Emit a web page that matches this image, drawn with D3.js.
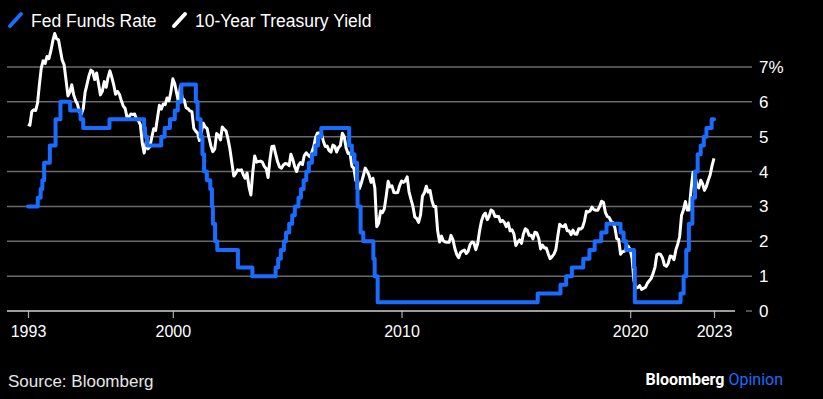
<!DOCTYPE html>
<html>
<head>
<meta charset="utf-8">
<script src="https://cdn.jsdelivr.net/npm/d3@7"></script>
<style>
  html, body { margin: 0; padding: 0; background: #000; }
  svg { display: block; font-family: "Liberation Sans", Arial, sans-serif; }
</style>
</head>
<body>
<div id="chart"></div>
<script>
// Fed funds target (upper bound), change dates and new level
var fedDates = ["1993-09-01","1994-02-04","1994-03-22","1994-04-18","1994-05-17","1994-08-16","1994-11-15",
  "1995-02-01","1995-07-06","1995-12-19","1996-01-31","1997-03-25","1998-09-29","1998-10-15","1998-11-17",
  "1999-06-30","1999-08-24","1999-11-16","2000-02-02","2000-03-21","2000-05-16","2001-01-03","2001-01-31",
  "2001-03-20","2001-04-18","2001-05-15","2001-06-27","2001-08-21","2001-09-17","2001-10-02","2001-11-06",
  "2001-12-11","2002-11-06","2003-06-25","2004-06-30","2004-08-10","2004-09-21","2004-11-10","2004-12-14",
  "2005-02-02","2005-03-22","2005-05-03","2005-06-30","2005-08-09","2005-09-20","2005-11-01","2005-12-13",
  "2006-01-31","2006-03-28","2006-05-10","2006-06-29","2007-09-18","2007-10-31","2007-12-11","2008-01-22",
  "2008-01-30","2008-03-18","2008-04-30","2008-10-08","2008-10-29","2008-12-16","2015-12-16","2016-12-14",
  "2017-03-15","2017-06-14","2017-12-13","2018-03-21","2018-06-13","2018-09-26","2018-12-19","2019-07-31",
  "2019-09-18","2019-10-30","2020-03-03","2020-03-15","2022-03-16","2022-05-04","2022-06-15","2022-07-27",
  "2022-09-21","2022-11-02","2022-12-14","2023-02-01","2023-03-22","2023-05-03","2023-07-26","2023-09-01"];
var fedRates = [3.00,3.25,3.50,3.75,4.25,4.75,5.50,
  6.00,5.75,5.50,5.25,5.50,5.25,5.00,4.75,
  5.00,5.25,5.50,5.75,6.00,6.50,6.00,5.50,
  5.00,4.50,4.00,3.75,3.50,3.00,2.50,2.00,
  1.75,1.25,1.00,1.25,1.50,1.75,2.00,2.25,
  2.50,2.75,3.00,3.25,3.50,3.75,4.00,4.25,
  4.50,4.75,5.00,5.25,4.75,4.50,4.25,3.50,
  3.00,2.25,2.00,1.50,1.00,0.25,0.50,0.75,
  1.00,1.25,1.50,1.75,2.00,2.25,2.50,2.25,
  2.00,1.75,1.25,0.25,0.50,1.00,1.75,2.50,
  3.25,4.00,4.50,4.75,5.00,5.25,5.50,5.50];

// 10-year Treasury yield, monthly from Sep 1993
var yieldStart = "1993-09-01";
var yieldValues = [
  5.36,5.33,5.72,5.77,
  5.75,5.97,6.48,6.97,7.18,7.10,7.30,7.24,7.46,7.74,7.96,7.81,
  7.78,7.47,7.20,7.06,6.63,6.17,6.28,6.49,6.20,6.04,5.93,5.71,
  5.65,5.81,6.27,6.51,6.74,6.91,6.87,6.64,6.83,6.53,6.20,6.30,
  6.58,6.42,6.69,6.89,6.71,6.49,6.22,6.30,6.21,6.03,5.88,5.81,
  5.54,5.57,5.65,5.64,5.65,5.50,5.46,5.34,4.81,4.53,4.83,4.65,
  4.72,5.00,5.23,5.18,5.54,5.90,5.79,5.94,5.92,6.11,6.03,6.28,
  6.66,6.52,6.26,5.99,6.44,6.10,6.05,5.83,5.80,5.74,5.72,5.24,
  5.16,5.10,4.89,5.14,5.39,5.28,5.24,4.97,4.73,4.57,4.65,5.09,
  5.04,4.91,5.28,5.21,5.16,4.93,4.65,4.26,3.87,3.94,4.05,4.03,
  4.05,3.90,3.81,3.96,3.57,3.33,3.98,4.45,4.27,4.29,4.30,4.27,
  4.15,4.08,3.83,4.35,4.72,4.73,4.50,4.28,4.13,4.10,4.19,4.23,
  4.22,4.17,4.50,4.34,4.14,4.00,4.18,4.26,4.20,4.46,4.54,4.47,
  4.42,4.57,4.72,4.99,5.11,5.11,5.09,4.88,4.72,4.73,4.60,4.56,
  4.76,4.72,4.56,4.69,4.75,5.10,5.00,4.67,4.52,4.53,4.15,4.10,
  3.74,3.74,3.51,3.68,3.88,4.10,4.01,3.89,3.69,3.81,3.53,2.42,
  2.52,2.87,2.82,2.93,3.29,3.72,3.56,3.59,3.40,3.39,3.40,3.59,
  3.73,3.69,3.73,3.85,3.42,3.20,3.01,2.70,2.65,2.54,2.76,3.29,
  3.39,3.58,3.41,3.46,3.17,3.00,3.00,2.30,1.98,2.15,2.01,1.98,
  1.97,1.97,2.17,2.05,1.80,1.62,1.53,1.68,1.72,1.75,1.65,1.72,
  1.91,1.98,1.96,1.76,1.93,2.30,2.58,2.74,2.81,2.62,2.72,2.90,
  2.86,2.71,2.72,2.71,2.56,2.60,2.54,2.42,2.53,2.30,2.33,2.21,
  1.88,1.98,2.04,1.94,2.20,2.36,2.32,2.17,2.17,2.07,2.26,2.24,
  2.09,1.78,1.89,1.81,1.81,1.64,1.50,1.56,1.63,1.76,2.14,2.49,
  2.43,2.42,2.48,2.30,2.30,2.19,2.32,2.21,2.20,2.36,2.35,2.40,
  2.58,2.86,2.84,2.87,2.98,2.91,2.89,2.89,3.00,3.15,3.12,2.83,
  2.71,2.68,2.57,2.53,2.40,2.07,2.06,1.63,1.70,1.71,1.81,1.86,
  1.76,1.50,0.87,0.66,0.67,0.73,0.62,0.65,0.68,0.79,0.87,0.93,
  1.08,1.26,1.61,1.64,1.62,1.52,1.32,1.28,1.37,1.58,1.56,1.47,
  1.76,1.93,2.13,2.75,2.90,3.14,2.90,2.90,3.52,3.98,3.89,3.62,
  3.53,3.75,3.66,3.46,3.57,3.75,3.90,4.17,4.38];

var xTickDates = ["1993-09-01","2000-01-01","2010-01-01","2020-01-01","2023-09-01"];
var xTickLabels = ["1993","2000","2010","2020","2023"];
var yTicks = [0,1,2,3,4,5,6,7];

var W = 823, H = 399;
var blue = "#1a6cff";
var parse = d3.timeParse("%Y-%m-%d");

var fed = fedDates.map(function(d, i) { return {date: parse(d), value: fedRates[i]}; });
var start = parse(yieldStart);
var yld = yieldValues.map(function(v, i) { return {date: d3.timeMonth.offset(start, i), value: v}; });

var x = d3.scaleTime()
  .domain([parse("1993-09-01"), parse("2023-09-01")])
  .range([28, 714]);
var y = d3.scaleLinear()
  .domain([0, 7])
  .range([311, 67]);

var svg = d3.select("#chart").append("svg")
  .attr("width", W)
  .attr("height", H);

svg.append("rect").attr("width", W).attr("height", H).attr("fill", "#000");

// Gridlines
svg.append("g")
  .selectAll("line")
  .data(yTicks.filter(function(d) { return d > 0; }))
  .join("line")
  .attr("x1", 7).attr("x2", 752)
  .attr("y1", function(d) { return y(d); })
  .attr("y2", function(d) { return y(d); })
  .attr("stroke", "#6a6a6a")
  .attr("stroke-width", 1.5);

// zero line: axis part plus a short grid stub
svg.append("line")
  .attr("x1", 746).attr("x2", 752)
  .attr("y1", y(0)).attr("y2", y(0))
  .attr("stroke", "#6a6a6a").attr("stroke-width", 1.5);

// y labels
svg.append("g")
  .selectAll("text")
  .data(yTicks)
  .join("text")
  .attr("x", 759)
  .attr("y", function(d) { return y(d); })
  .attr("dy", "0.35em")
  .attr("fill", "#fff")
  .attr("font-size", 17)
  .text(function(d) { return d === 7 ? "7%" : d; });

// x axis
var xAxis = d3.axisBottom(x)
  .tickValues(xTickDates.map(parse))
  .tickFormat(function(d, i) { return xTickLabels[i]; })
  .tickSize(7)
  .tickPadding(8)
  .tickSizeOuter(0);
var gx = svg.append("g")
  .attr("transform", "translate(0," + y(0) + ")")
  .call(xAxis);
gx.select(".domain").remove();
gx.selectAll(".tick line").attr("stroke", "#aaa").attr("stroke-width", 1.2);
gx.selectAll(".tick text")
  .attr("fill", "#fff")
  .attr("font-size", 16)
  .attr("font-family", "Liberation Sans, Arial, sans-serif");
svg.append("line")
  .attr("x1", 7).attr("x2", 735)
  .attr("y1", y(0)).attr("y2", y(0))
  .attr("stroke", "#d0d0d0").attr("stroke-width", 1.5);

// series
var yieldLine = d3.line()
  .x(function(d) { return x(d.date); })
  .y(function(d) { return y(d.value); });
var fedLine = d3.line()
  .x(function(d) { return x(d.date); })
  .y(function(d) { return y(d.value); })
  .curve(d3.curveStepAfter);

svg.append("path")
  .datum(yld)
  .attr("d", yieldLine)
  .attr("fill", "none")
  .attr("stroke", "#fff")
  .attr("stroke-width", 3)
  .attr("stroke-linejoin", "round");

svg.append("path")
  .datum(fed)
  .attr("d", fedLine)
  .attr("fill", "none")
  .attr("stroke", blue)
  .attr("stroke-width", 4)
  .attr("stroke-linejoin", "round")
  .attr("stroke-linecap", "round");

// legend
var legend = [{label: "Fed Funds Rate", color: blue, x: 8},
              {label: "10-Year Treasury Yield", color: "#fff", x: 172}];
var lg = svg.append("g").selectAll("g")
  .data(legend)
  .join("g")
  .attr("transform", function(d) { return "translate(" + d.x + ",0)"; });
lg.append("line")
  .attr("x1", 2).attr("y1", 26).attr("x2", 13).attr("y2", 14)
  .attr("stroke", function(d) { return d.color; })
  .attr("stroke-width", 4)
  .attr("stroke-linecap", "round");
lg.append("text")
  .attr("x", 23).attr("y", 27)
  .attr("fill", "#fff")
  .attr("font-size", 17.5)
  .text(function(d) { return d.label; });

// footer
svg.append("text")
  .attr("x", 8).attr("y", 387)
  .attr("fill", "#e6e6e6")
  .attr("font-size", 17)
  .text("Source: Bloomberg");

var brand = svg.append("text")
  .attr("x", 783).attr("y", 385)
  .attr("text-anchor", "end")
  .attr("font-size", 16)
  .attr("font-weight", "bold")
  .attr("font-family", "Roboto, Arial, sans-serif");
brand.append("tspan").attr("fill", "#fff").text("Bloomberg ");
brand.append("tspan").attr("fill", blue).attr("font-weight", "normal").text("Opinion");
</script>
</body>
</html>
